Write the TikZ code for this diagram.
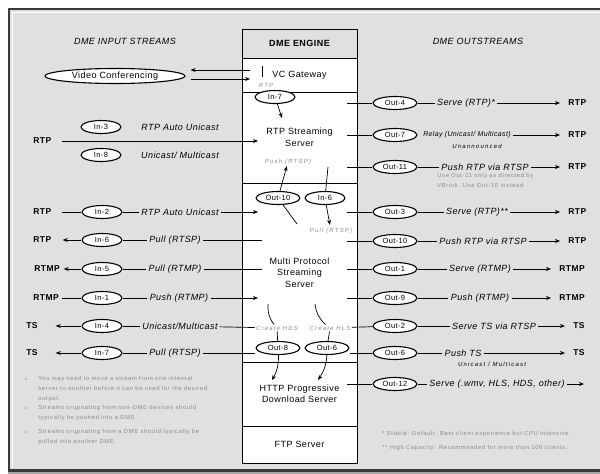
\documentclass[tikz,border=0pt]{standalone}
\usepackage{fontspec}
\setmainfont{Liberation Sans}[LetterSpace=5]
\usetikzlibrary{shapes.geometric,positioning,arrows.meta}
\definecolor{bggray}{HTML}{E0E0E0}
\definecolor{framegray}{HTML}{3A3A3A}
\definecolor{notegray}{HTML}{8A8A8A}
\begin{document}
\begin{tikzpicture}[x=1pt, y=-1pt, line width=0.7pt, line join=round, >={Stealth[length=5pt,width=4pt]},
	cell/.style={draw, fill=white, line width=0.8pt, minimum width=115, inner sep=0pt, outer sep=0pt, align=center, font=\fontsize{9}{11.5}\selectfont},
	inell/.style={ellipse, draw, line width=1.1pt, fill=white, inner sep=0pt, minimum width=40, minimum height=13, font=\fontsize{7.5}{8}\selectfont},
	outell/.style={inell, minimum width=44},
	lbl/.style={font=\itshape\fontsize{9}{10}\selectfont, inner sep=2pt},
	proto/.style={font=\bfseries\fontsize{8.5}{10}\selectfont, inner sep=1pt},
	leftproto/.style={proto, anchor=west, text width=24, align=left},
	tag/.style={font=\itshape\fontsize{6}{7}\selectfont\addfontfeatures{LetterSpace=20}, text=notegray, inner sep=1pt},
	subl/.style={tag, text=black},
	note/.style={font=\fontsize{5.8}{10}\selectfont\addfontfeatures{LetterSpace=12}, text=notegray, align=left, inner sep=0pt}]
	\useasboundingbox (0,0) rectangle (600,474);
	% frame
	\fill[bggray] (8,8) rectangle (600,470);
	\draw[framegray, line width=2pt] (9,470) -- (9,9) -- (600,9);
	\draw[white, line width=0.8pt] (12,468) -- (12,12) -- (600,12);
	\fill[framegray] (8,469) rectangle (600,472);
	\fill[framegray!45] (8,472) rectangle (600,474);
	\node[lbl] (inhead) at (125,41) {DME INPUT STREAMS};
	\node[lbl] (outhead) at (478,41) {DME OUTSTREAMS};
	% engine
	\node[cell, fill=bggray, minimum height=29, font=\bfseries\fontsize{9}{11}\selectfont] (eng) at (299.5,43.5) {DME ENGINE};
	\node[cell, minimum height=34, below=0pt of eng] (vcgw) {VC Gateway};
	\node[cell, minimum height=91, below=0pt of vcgw] (rtpsrv) {RTP Streaming\\Server};
	\node[cell, minimum height=179, below=0pt of rtpsrv] (mpsrv) {Multi Protocol\\Streaming\\Server};
	\node[cell, minimum height=64, below=0pt of mpsrv] (httpsrv) {HTTP Progressive\\Download Server};
	\node[cell, minimum height=37, below=0pt of httpsrv] (ftpsrv) {FTP Server};
	% video conferencing
	\node[inell, minimum width=140, minimum height=15, font=\fontsize{9}{10}\selectfont] (vc) at (115,76) {Video Conferencing};
	\coordinate (gwA) at (250,70);
	\coordinate (gwB) at (250,79);
	\draw[->, shorten >=5pt] (gwA) -- (gwA -| vc.east);
	\draw[->, shorten <=5pt] (gwB -| vc.east) -- (gwB);
	\draw (262,66) -- (262,77);
	\node[tag] (gwrtp) at (266,85) {RTP};
	% rtp streaming server
	\node[inell] (in7b) at (275,97) {In-7};
	\coordinate (in7t) at (282,118);
	\draw[->] (in7b) -- (in7t);
	\node[inell] (in3) at (101,127) {In-3};
	\node[lbl] (in3l) at (180,127) {RTP Auto Unicast};
	\node[leftproto] (rtp0) at (32,141) {RTP};
	\coordinate (rtp0e) at (258,141);
	\draw[->, shorten <=3pt] (rtp0) -- (rtp0e);
	\node[inell] (in8) at (101,155) {In-8};
	\node[lbl] (in8l) at (180,155) {Unicast/ Multicast};
	% multi protocol server
	\node[tag] (pushtag) at (288,162) {Push (RTSP)};
	\node[outell] (out10b) at (278,198) {Out-10};
	\node[inell] (in6b) at (325,198) {In-6};
	\draw[->] (out10b) -- (pushtag);
	\coordinate (in6t) at (328,167);
	\draw (in6b) -- (in6t);
	\node[tag] (pulltag) at (331,231) {Pull (RTSP)};
	\draw[->, shorten >=2pt] (in6b) -- (pulltag);
	\coordinate (out10d) at (297,224);
	\draw (out10b) -- (out10d);
	% inputs
	\foreach \n/\y/\lab/\lx/\prot in {2/212/{RTP Auto Unicast}/180/RTP, 1/298/{Push (RTMP)}/179/RTMP}{
		\node[leftproto] (inp\n) at (32,\y) {\prot};
		\node[inell] (in\n) at (102,\y) {In-\n};
		\node[lbl] (inl\n) at (\lx,\y) {\lab};
		\coordinate (ine\n) at (258,\y);
		\draw[shorten <=3pt] (inp\n) -- (in\n);
		\draw (in\n) -- (inl\n);
		\draw[->] (inl\n) -- (ine\n);
	}
	\foreach \n/\y/\lab/\lx/\prot/\px in {6/240/{Pull (RTSP)}/175/RTP/32, 5/269/{Pull (RTMP)}/175/RTMP/33, 4/326/{Unicast/Multicast}/180/TS/25, 7/353/{Pull (RTSP)}/175/TS/25}{
		\node[leftproto] (inp\n) at (\px,\y) {\prot};
		\node[inell] (in\n) at (102,\y) {In-\n};
		\node[lbl] (inl\n) at (\lx,\y) {\lab};
		\draw (inl\n) -- (in\n);
		\draw[->, shorten >=4pt] (in\n) -- (inp\n);
	}
	\coordinate (ine6) at (262,240);
	\coordinate (ine5) at (262,269);
	\draw (ine6) -- (inl6);
	\draw (ine5) -- (inl5);
	% create hds / hls
	\coordinate (hdsA) at (268,304);
	\coordinate (hlsA) at (315,304);
	\node[tag] (hds) at (277,328) {Create HDS};
	\node[tag] (hls) at (330,328) {Create HLS};
	\draw (hdsA) to[bend right=20] (hds);
	\draw (hlsA) to[bend right=20] (hls);
	\node[outell] (out8b) at (278,348) {Out-8};
	\node[outell] (out6b) at (327,348) {Out-6};
	\draw (hds) -- (out8b);
	\draw (hls) -- (out6b);
	\draw (inl4) -- (hds);
	\draw (inl7) -- (inl7 -| out8b.west);
	\coordinate (httpA) at (272,380);
	\coordinate (httpB) at (318,380);
	\draw[->] (out8b) to[bend left=15] (httpA);
	\draw[->] (out6b) to[bend left=15] (httpB);
	% outputs
	\foreach \n/\y/\lab/\lx/\prot/\px in {4/103/{Serve (RTP)*}/466/RTP/567, 7/135/{{\fontsize{7}{8}\selectfont Relay (Unicast/ Multicast)}}/467/RTP/567, 11/167/{Push RTP via RTSP}/485/RTP/567, 3/212/{Serve (RTP)**}/477/RTP/567, 10/241/{Push RTP via RTSP}/483/RTP/567, 1/269/{Serve (RTMP)}/480/RTMP/558, 9/298/{Push (RTMP)}/480/RTMP/558, 2/326/{Serve TS via RTSP}/494/TS/572, 6/353/{Push TS}/463/TS/572}{
		\node[outell] (out\n) at (395,\y) {Out-\n};
		\node[lbl] (outl\n) at (\lx,\y) {\lab};
		\node[proto, anchor=west] (outp\n) at (\px,\y) {\prot};
		\ifnum\n=7 \else \draw (out\n) -- (outl\n); \fi
		\draw[->, shorten >=7pt] (outl\n) -- (outp\n);
		\ifnum\n=2 \else \ifnum\n=6 \else
			\coordinate (os\n) at (347,\y);
			\draw (os\n) -- (out\n);
		\fi\fi
	}
	\draw (hls) -- (out2);
	\draw (out6b.east |- out6) -- (out6);
	\node[subl] (unann) at (477,146) {Unannounced};
	\node[subl] (out6sub) at (492,364) {Unicast / Multicast};
	\node[note, anchor=north west] (out11note) at (437,173) {Use Out-11 only as directed by\\VBrick. Use Out-10 instead};
	\node[outell] (out12) at (395,384) {Out-12};
	\node[lbl] (outl12) at (497,384) {Serve (.wmv, HLS, HDS, other)};
	\coordinate (os12) at (347,384);
	\coordinate (oe12) at (584,384);
	\draw (os12) -- (out12);
	\draw (out12) -- (outl12);
	\draw[->] (outl12) -- (oe12);
	% notes
	\foreach \y in {380,409,433}
		\node[note] (bul\y) at (26,\y) {\textbullet};
	\node[note, anchor=north west] (note1) at (38,375.5) {You may need to move a stream from one internal\\server to another before it can be used for the desired\\output.};
	\node[note, anchor=north west] (note2) at (38,404.5) {Streams originating from non-DME devices should\\typically be pushed into a DME.};
	\node[note, anchor=north west] (note3) at (38,428.5) {Streams originating from a DME should typically be\\pulled into another DME.};
	\node[note, anchor=west] (star1) at (382,434) {* Stable: Default. Best client experience but CPU intensive.};
	\node[note, anchor=west] (star2) at (382,448) {** High Capacity: Recommended for more than 100 clients.};
\end{tikzpicture}
\end{document}
